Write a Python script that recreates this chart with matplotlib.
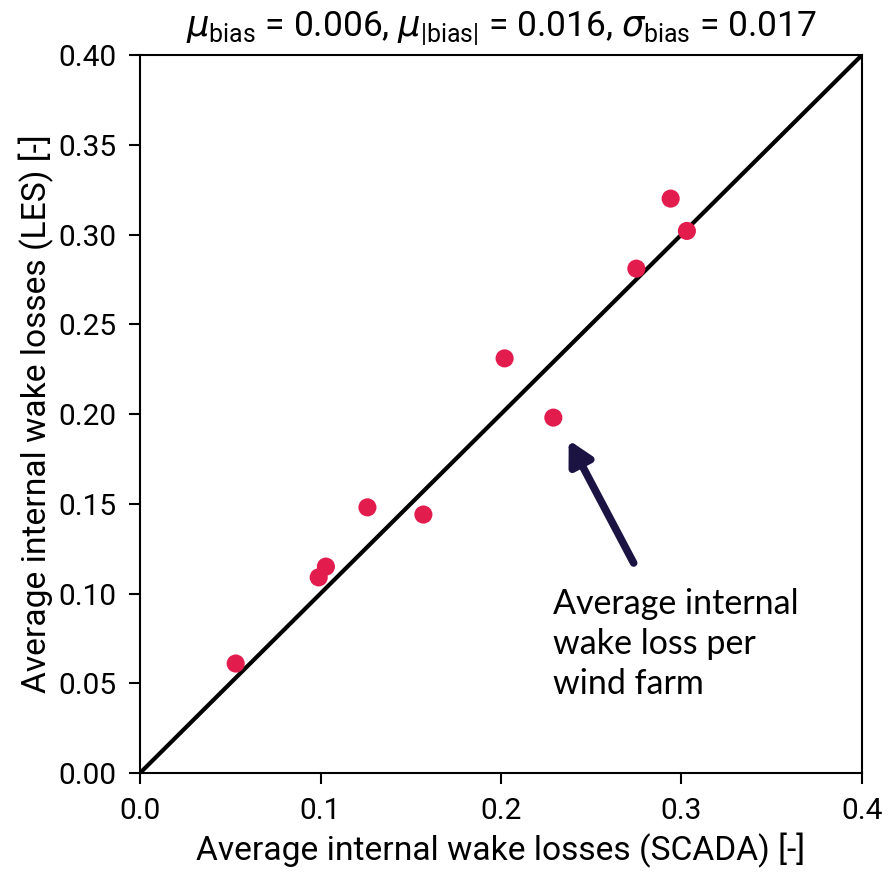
import matplotlib
matplotlib.use("Agg")
from matplotlib import pyplot as plt

# wake losses per wind farm
scada = [0.053, 0.099, 0.103, 0.126, 0.157, 0.202, 0.229, 0.275, 0.294, 0.303]
les = [0.061, 0.109, 0.115, 0.148, 0.144, 0.231, 0.198, 0.281, 0.320, 0.302]

xticks = [0.0, 0.1, 0.2, 0.3, 0.4]
yticks = [0.00, 0.05, 0.10, 0.15, 0.20, 0.25, 0.30, 0.35, 0.40]

plt.rcParams['font.family'] = ['Roboto', 'DejaVu Sans']
plt.rcParams['mathtext.fontset'] = 'custom'
plt.rcParams['mathtext.rm'] = 'Roboto'
plt.rcParams['mathtext.it'] = 'DejaVu Sans:italic'

fig = plt.figure(figsize=(8.89, 8.72), dpi=100)
ax = fig.add_axes([0.1575, 0.1135, 0.8121, 0.8234])

ax.plot([0, 0.4], [0, 0.4], color='black', lw=3, zorder=2)
ax.scatter(scada, les, s=170, color='#e31c4e', edgecolors='none', zorder=3)

ax.set_xlim(0, 0.4)
ax.set_ylim(0, 0.4)
ax.set_xticks(xticks)
ax.set_xticklabels(['%.1f' % v for v in xticks])
ax.set_yticks(yticks)
ax.set_yticklabels(['%.2f' % v for v in yticks])
ax.tick_params(labelsize=21.5, length=8, width=1.5, pad=9)
for s in ax.spines.values():
    s.set_linewidth(1.5)

ax.set_xlabel('Average internal wake losses (SCADA) [-]', fontsize=24.2, labelpad=6)
ax.set_ylabel('Average internal wake losses (LES) [-]', fontsize=24.2, labelpad=3)
ax.set_title(r'$\mu_{\rm bias}$ = 0.006, $\mu_{|\rm bias|}$ = 0.016, $\sigma_{\rm bias}$ = 0.017',
             fontsize=25.5, pad=14)

ax.annotate('', xy=(0.2375, 0.1855), xytext=(0.2735, 0.117),
            arrowprops=dict(arrowstyle='-|>,head_length=1.4,head_width=0.75',
                            color='#1b1443', lw=5.5, shrinkA=0, shrinkB=0))
ax.text(0.229, 0.103, 'Average internal\nwake loss per\nwind farm', fontsize=24.5,
        family=['Lato', 'DejaVu Sans'], va='top', ha='left', linespacing=1.3)

fig.savefig('out.png', dpi=100)
